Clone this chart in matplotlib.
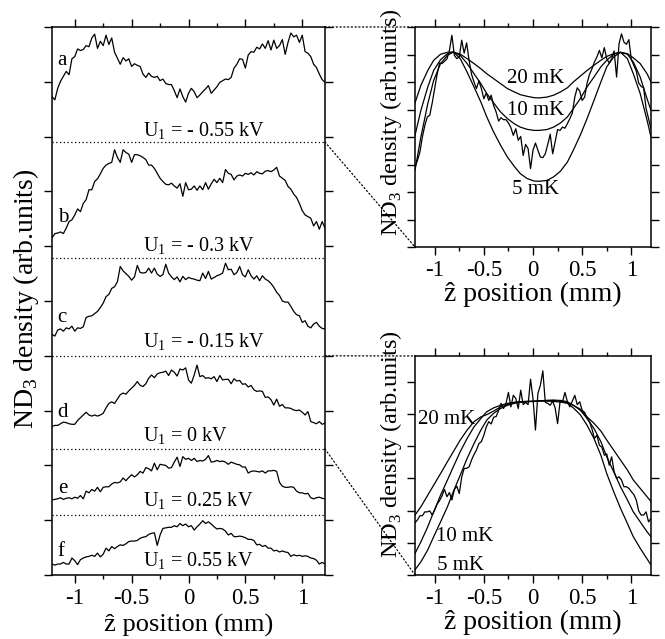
import numpy as np
import matplotlib
matplotlib.use('Agg')
import matplotlib.pyplot as plt
from matplotlib.patches import ConnectionPatch
from matplotlib.ticker import MultipleLocator

# sampling positions of the measured profiles (mm)
z = np.linspace(-1.2, 1.2, 97)

# left panel: profiles a-f (stacked, arb. units)
trace_a = [8.73, 8.67, 8.88, 9.01, 9.10, 9.19, 9.13, 9.42, 9.46, 9.60,
           9.57, 9.59, 9.66, 9.64, 9.80, 9.87, 9.61, 9.74, 9.66, 9.85,
           9.68, 9.80, 9.54, 9.43, 9.32, 9.44, 9.38, 9.42, 9.28, 9.33,
           9.30, 9.28, 9.14, 9.08, 9.16, 9.10, 9.08, 9.10, 9.02, 9.05,
           8.97, 8.95, 8.95, 8.84, 8.71, 8.87, 8.73, 8.63, 8.79, 8.88,
           8.82, 8.71, 8.76, 8.82, 8.87, 8.93, 8.79, 8.85, 8.91, 8.99,
           9.02, 9.05, 9.04, 9.08, 9.25, 9.32, 9.42, 9.41, 9.25, 9.49,
           9.55, 9.54, 9.63, 9.60, 9.69, 9.61, 9.75, 9.58, 9.76, 9.61,
           9.66, 9.77, 9.50, 9.72, 9.89, 9.82, 9.85, 9.72, 9.85, 9.55,
           9.52, 9.46, 9.32, 9.26, 9.14, 9.04, 8.99]
trace_b = [6.15, 6.23, 6.24, 6.26, 6.23, 6.33, 6.45, 6.48, 6.57, 6.68,
           6.63, 6.78, 6.85, 7.03, 7.03, 7.18, 7.23, 7.32, 7.42, 7.48,
           7.51, 7.53, 7.76, 7.62, 7.53, 7.76, 7.71, 7.68, 7.53, 7.67,
           7.67, 7.65, 7.62, 7.58, 7.48, 7.48, 7.42, 7.33, 7.24, 7.18,
           7.13, 7.12, 7.15, 7.10, 7.06, 7.14, 6.91, 7.16, 7.03, 7.04,
           7.10, 7.02, 7.10, 7.03, 7.16, 7.04, 7.14, 7.22, 7.16, 7.24,
           7.16, 7.40, 7.33, 7.31, 7.21, 7.28, 7.30, 7.28, 7.33, 7.31,
           7.34, 7.30, 7.36, 7.33, 7.32, 7.37, 7.38, 7.36, 7.39, 7.44,
           7.28, 7.24, 7.20, 7.09, 7.04, 6.95, 6.89, 6.78, 6.65, 6.57,
           6.54, 6.51, 6.37, 6.45, 6.31, 6.45, 6.33]
trace_c = [4.39, 4.36, 4.47, 4.49, 4.45, 4.51, 4.49, 4.54, 4.45, 4.51,
           4.50, 4.53, 4.70, 4.72, 4.73, 4.77, 4.81, 4.88, 4.96, 5.08,
           5.12, 5.23, 5.26, 5.35, 5.63, 5.55, 5.50, 5.45, 5.38, 5.44,
           5.65, 5.52, 5.51, 5.52, 5.60, 5.51, 5.60, 5.49, 5.45, 5.48,
           5.67, 5.51, 5.44, 5.39, 5.44, 5.35, 5.45, 5.39, 5.43, 5.41,
           5.40, 5.38, 5.37, 5.51, 5.41, 5.54, 5.40, 5.43, 5.46, 5.48,
           5.51, 5.69, 5.57, 5.58, 5.48, 5.52, 5.63, 5.48, 5.44, 5.57,
           5.46, 5.40, 5.46, 5.37, 5.46, 5.40, 5.37, 5.32, 5.25, 5.16,
           5.10, 5.00, 4.98, 4.98, 4.90, 4.81, 4.75, 4.73, 4.61, 4.64,
           4.54, 4.51, 4.58, 4.61, 4.54, 4.50, 4.49]
trace_d = [2.71, 2.73, 2.73, 2.76, 2.79, 2.78, 2.76, 2.75, 2.75, 2.82,
           2.87, 2.92, 2.97, 2.92, 2.90, 2.92, 2.90, 2.92, 2.95, 3.05,
           3.13, 3.16, 3.13, 3.21, 3.29, 3.32, 3.30, 3.36, 3.41, 3.46,
           3.53, 3.46, 3.44, 3.49, 3.59, 3.65, 3.60, 3.67, 3.69, 3.70,
           3.72, 3.64, 3.74, 3.70, 3.63, 3.76, 3.74, 3.78, 3.56, 3.50,
           3.65, 3.83, 3.62, 3.64, 3.59, 3.60, 3.58, 3.62, 3.53, 3.64,
           3.56, 3.57, 3.57, 3.49, 3.58, 3.54, 3.55, 3.48, 3.49, 3.43,
           3.46, 3.38, 3.35, 3.36, 3.35, 3.24, 3.25, 3.20, 3.10, 3.21,
           3.08, 3.11, 3.05, 3.05, 3.04, 3.01, 3.00, 3.01, 2.97, 2.92,
           2.98, 2.80, 2.78, 2.76, 2.80, 2.75, 2.77]
trace_e = [1.37, 1.38, 1.39, 1.41, 1.38, 1.40, 1.41, 1.39, 1.42, 1.40,
           1.45, 1.39, 1.53, 1.50, 1.56, 1.53, 1.60, 1.52, 1.60, 1.61,
           1.61, 1.66, 1.69, 1.68, 1.70, 1.77, 1.72, 1.78, 1.83, 1.79,
           1.83, 1.89, 1.86, 1.96, 1.94, 1.90, 2.04, 1.92, 2.02, 2.01,
           2.00, 1.95, 1.96, 2.06, 2.15, 1.98, 2.16, 2.11, 2.13, 2.09,
           2.13, 2.07, 2.09, 2.08, 2.11, 2.18, 2.06, 2.07, 2.09, 2.07,
           2.08, 2.06, 2.02, 2.06, 2.04, 2.02, 2.01, 1.97, 1.97, 1.86,
           1.89, 1.90, 1.89, 1.88, 1.90, 1.86, 1.90, 1.90, 1.91, 1.89,
           1.69, 1.62, 1.60, 1.60, 1.61, 1.60, 1.53, 1.50, 1.50, 1.48,
           1.49, 1.41, 1.39, 1.41, 1.42, 1.40, 1.39]
trace_f = [0.20, 0.18, 0.20, 0.20, 0.23, 0.20, 0.20, 0.31, 0.26, 0.19,
           0.28, 0.31, 0.33, 0.34, 0.36, 0.34, 0.40, 0.33, 0.38, 0.49,
           0.44, 0.52, 0.48, 0.52, 0.55, 0.54, 0.57, 0.61, 0.62, 0.62,
           0.63, 0.67, 0.69, 0.70, 0.74, 0.76, 0.77, 0.54, 0.73, 0.85,
           0.86, 0.87, 0.87, 0.90, 0.88, 0.94, 0.90, 0.93, 0.88, 0.90,
           0.82, 0.88, 0.93, 0.99, 0.94, 0.97, 0.93, 0.88, 0.84, 0.85,
           0.84, 0.80, 0.73, 0.76, 0.70, 0.70, 0.71, 0.70, 0.68, 0.65,
           0.65, 0.63, 0.55, 0.56, 0.52, 0.54, 0.49, 0.49, 0.44, 0.45,
           0.42, 0.44, 0.42, 0.41, 0.34, 0.37, 0.35, 0.36, 0.34, 0.35,
           0.34, 0.31, 0.30, 0.27, 0.20, 0.23, 0.20]

letters = ['a', 'b', 'c', 'd', 'e', 'f']
letter_y = [9.31, 6.45, 4.62, 2.89, 1.50, 0.34]
voltages = ['- 0.55', '- 0.3', '- 0.15', '0', '0.25', '0.55']
voltage_y = [8.00, 5.90, 4.14, 2.43, 1.25, 0.15]
separators = [7.90, 5.79, 4.00, 2.30, 1.10]

# right panels: measured profile and simulated profiles for 20/10/5 mK
top_data = [2.91, 3.15, 3.45, 4.00, 4.42, 4.73, 4.79, 5.24, 5.76, 6.28,
            6.69, 6.67, 6.75, 6.84, 7.15, 7.70, 6.97, 6.85, 6.91, 7.52,
            7.05, 7.42, 6.79, 6.28, 6.00, 5.76, 6.04, 5.76, 5.39, 5.60,
            5.33, 5.52, 5.14, 4.91, 4.58, 4.70, 4.63, 4.63, 4.51, 4.34,
            4.06, 4.30, 3.88, 4.02, 3.33, 3.73, 3.58, 2.85, 3.52, 3.78,
            3.52, 3.27, 3.25, 3.39, 3.73, 4.10, 3.39, 3.82, 4.27, 4.24,
            4.36, 4.32, 4.49, 4.67, 4.87, 5.45, 5.79, 5.67, 5.33, 5.45,
            5.96, 6.28, 6.48, 6.73, 6.91, 7.15, 6.88, 7.25, 6.85, 6.69,
            6.84, 7.13, 6.18, 7.39, 7.75, 7.45, 7.37, 7.54, 6.81, 6.61,
            6.40, 5.96, 5.84, 5.79, 5.03, 4.67, 4.30]
bot_data = [1.62, 1.71, 1.84, 1.84, 1.96, 1.96, 1.99, 1.86, 2.02, 2.20,
            2.31, 2.46, 2.66, 2.43, 2.56, 2.33, 2.65, 2.76, 2.53, 3.04,
            3.31, 3.31, 3.36, 3.57, 3.74, 3.88, 4.08, 4.14, 4.34, 4.60,
            4.76, 4.69, 4.90, 4.92, 5.11, 5.33, 5.17, 5.32, 5.67, 5.22,
            5.58, 5.48, 5.17, 5.74, 5.29, 5.36, 5.29, 6.08, 5.48, 4.50,
            5.64, 5.89, 6.34, 5.36, 5.33, 5.27, 5.40, 5.19, 4.70, 5.38,
            5.38, 5.67, 5.38, 5.22, 5.40, 5.58, 5.29, 5.38, 5.11, 5.05,
            4.86, 4.76, 4.53, 4.24, 4.34, 4.03, 3.97, 3.72, 3.76, 3.41,
            3.67, 3.21, 3.00, 3.05, 2.95, 2.74, 2.74, 2.69, 2.59, 2.50,
            2.33, 1.99, 1.86, 1.86, 1.96, 1.65, 1.76]

z_fit = [-1.20, -1.14, -1.07, -1.01, -0.94, -0.87, -0.81, -0.74, -0.67, -0.60,
         -0.53, -0.47, -0.40, -0.33, -0.26, -0.19, -0.13, -0.06, 0.01, 0.06,
         0.14, 0.21, 0.28, 0.35, 0.41, 0.48, 0.55, 0.62, 0.69, 0.75,
         0.82, 0.89, 0.96, 1.02, 1.09, 1.16, 1.20]
top_20mK = [5.24, 5.88, 6.42, 6.79, 7.01, 7.08, 7.09, 7.01, 6.85, 6.67,
            6.48, 6.30, 6.12, 5.94, 5.76, 5.64, 5.54, 5.48, 5.43, 5.42,
            5.45, 5.52, 5.64, 5.79, 6.00, 6.21, 6.42, 6.61, 6.79, 6.93,
            7.03, 7.08, 7.03, 6.88, 6.67, 6.30, 6.00]
top_10mK = [4.06, 4.97, 5.82, 6.42, 6.81, 7.03, 7.09, 6.97, 6.67, 6.30,
            5.94, 5.58, 5.24, 4.91, 4.67, 4.48, 4.36, 4.28, 4.24, 4.24,
            4.27, 4.36, 4.51, 4.73, 5.03, 5.39, 5.82, 6.18, 6.55, 6.79,
            7.01, 7.08, 7.01, 6.73, 6.18, 5.39, 4.97]
top_5mK = [2.79, 4.00, 5.21, 6.06, 6.67, 6.97, 7.09, 6.85, 6.36, 5.82,
           5.27, 4.73, 4.18, 3.70, 3.27, 2.93, 2.67, 2.49, 2.40, 2.39,
           2.42, 2.55, 2.76, 3.09, 3.52, 4.06, 4.67, 5.33, 6.00, 6.55,
           6.91, 7.08, 6.85, 6.30, 5.58, 4.61, 4.00]
bot_20mK = [1.86, 2.12, 2.48, 2.79, 3.15, 3.52, 3.83, 4.19, 4.50, 4.76,
            4.91, 4.98, 5.09, 5.22, 5.29, 5.36, 5.38, 5.39, 5.39, 5.40,
            5.42, 5.43, 5.42, 5.38, 5.27, 5.15, 4.91, 4.71, 4.47, 4.19,
            3.88, 3.57, 3.26, 2.95, 2.69, 2.43, 2.28]
bot_10mK = [0.67, 1.03, 1.50, 1.96, 2.48, 2.95, 3.36, 3.83, 4.24, 4.60,
            4.86, 5.07, 5.19, 5.27, 5.33, 5.36, 5.38, 5.39, 5.40, 5.41,
            5.42, 5.42, 5.40, 5.35, 5.27, 5.12, 4.86, 4.55, 4.14, 3.67,
            3.21, 2.74, 2.33, 1.96, 1.65, 1.34, 1.19]
bot_5mK = [0.16, 0.41, 0.78, 1.19, 1.65, 2.12, 2.59, 3.10, 3.62, 4.08,
           4.50, 4.81, 5.02, 5.17, 5.27, 5.33, 5.36, 5.38, 5.39, 5.40,
           5.40, 5.39, 5.37, 5.33, 5.19, 4.98, 4.65, 4.24, 3.72, 3.15,
           2.59, 2.07, 1.60, 1.19, 0.83, 0.50, 0.31]

xtick_vals = [-1, -0.5, 0, 0.5, 1]
xtick_text = ['-1', '-0.5', '0', '0.5', '1']

plt.rcParams['font.family'] = ['Liberation Serif', 'DejaVu Serif']
plt.rcParams['mathtext.fontset'] = 'custom'
plt.rcParams['mathtext.rm'] = 'Liberation Serif'
plt.rcParams['axes.unicode_minus'] = False

W, H = 665, 639
fig = plt.figure(figsize=(W / 100, H / 100), dpi=100)
ax_l = fig.add_axes([52 / W, 64 / H, 273 / W, 548 / H])
ax_t = fig.add_axes([415 / W, 392 / H, 236 / W, 220 / H])
ax_b = fig.add_axes([415 / W, 64 / H, 236 / W, 219 / H])

ylabel = r'ND$_\mathregular{3}$ density (arb.units)'
xlabel = '\u1e91 position (mm)'


def style(ax, ymax):
    ax.set_xlim(-1.2, 1.2)
    ax.set_ylim(0, ymax)
    ax.set_xticks(xtick_vals)
    ax.set_xticklabels(xtick_text)
    ax.xaxis.set_minor_locator(MultipleLocator(0.25))
    ax.yaxis.set_major_locator(MultipleLocator(1))
    ax.tick_params(which='both', direction='out', top=True, right=True,
                   labelleft=False, width=1)
    ax.tick_params(which='major', length=6, labelsize=16.5, pad=3)
    ax.tick_params(which='minor', length=3)
    for s in ax.spines.values():
        s.set_linewidth(1.1)


style(ax_l, 10)
style(ax_t, 8)
style(ax_b, 6.8)

# left stack
for tr in [trace_a, trace_b, trace_c, trace_d, trace_e, trace_f]:
    ax_l.plot(z, tr, color='k', lw=0.9)
for y in separators:
    ax_l.axhline(y, color='k', lw=0.9, ls=(0, (1, 2)))
for lab, y in zip(letters, letter_y):
    ax_l.text(-1.15, y, lab, fontsize=15, ha='left', va='baseline')
for v, y in zip(voltages, voltage_y):
    ax_l.text(-0.40, y, r'U$_\mathregular{1}$ = ' + v + ' kV', fontsize=14.5,
              ha='left', va='baseline')
ax_l.set_ylabel(ylabel, fontsize=20)
ax_l.yaxis.set_label_coords(-0.04, 0.505)
ax_l.set_xlabel(xlabel, fontsize=19, labelpad=4)

# upper right: profile a
ax_t.plot(z, top_data, color='k', lw=0.9)
for fit in [top_20mK, top_10mK, top_5mK]:
    ax_t.plot(z_fit, fit, color='k', lw=0.9)
ax_t.text(0.03, 6.12, '20 mK', fontsize=15, ha='center', va='center')
ax_t.text(0.03, 4.97, '10 mK', fontsize=15, ha='center', va='center')
ax_t.text(0.03, 2.09, '5 mK', fontsize=15, ha='center', va='center')
ax_t.set_ylabel(ylabel, fontsize=17.5)
ax_t.yaxis.set_label_coords(-0.045, 0.57)
ax_t.set_xlabel(xlabel, fontsize=20, labelpad=1)

# lower right: profile d
ax_b.plot(z, bot_data, color='k', lw=0.9)
for fit in [bot_20mK, bot_10mK, bot_5mK]:
    ax_b.plot(z_fit, fit, color='k', lw=0.9)
ax_b.text(-1.17, 4.84, '20 mK', fontsize=15, ha='left', va='center')
ax_b.text(-0.99, 1.19, '10 mK', fontsize=15, ha='left', va='center')
ax_b.text(-0.98, 0.31, '5 mK', fontsize=15, ha='left', va='center')
ax_b.set_ylabel(ylabel, fontsize=17.5)
ax_b.yaxis.set_label_coords(-0.045, 0.6)
ax_b.set_xlabel(xlabel, fontsize=20, labelpad=1)

# dotted guides linking the left stack to the zoomed panels
for yl, ax_r, yr in [(10, ax_t, 1), (separators[0], ax_t, 0),
                     (separators[2], ax_b, 1), (separators[3], ax_b, 0)]:
    con = ConnectionPatch(xyA=(1.2, yl), coordsA=ax_l.transData,
                          xyB=(0, yr), coordsB=ax_r.transAxes,
                          color='k', lw=0.9, ls=(0, (1, 2)))
    fig.add_artist(con)

fig.savefig('out.png', dpi=100)
